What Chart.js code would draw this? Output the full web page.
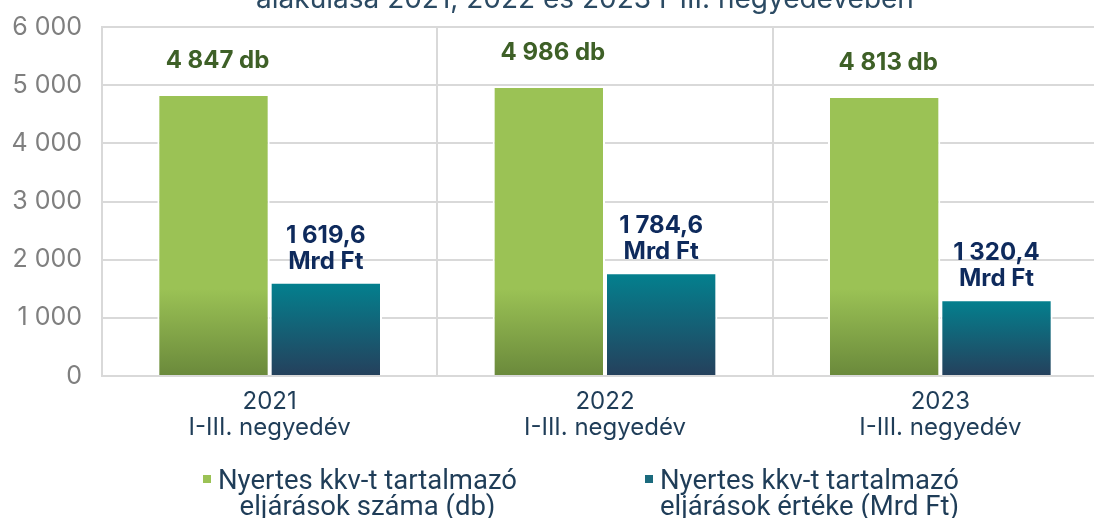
<!DOCTYPE html>
<html lang="hu">
<head>
<meta charset="utf-8">
<script src="https://cdn.jsdelivr.net/npm/chart.js@4/dist/chart.umd.min.js"></script>
<style>
  html, body { margin: 0; padding: 0; background: #fff; overflow: hidden; }
  #wrap { position: absolute; left: 0; top: 0; width: 1110px; height: 518px; }
</style>
</head>
<body>
<div id="wrap"><canvas id="chart"></canvas></div>
<script>
// adatok
const titleText = 'alakulása 2021, 2022 és 2023 I-III. negyedévében';
const categories = [
    ['2021', 'I-III. negyedév'],
    ['2022', 'I-III. negyedév'],
    ['2023', 'I-III. negyedév']
];
const countValues = [4847, 4986, 4813];          // db
const amountValues = [1619.6, 1784.6, 1320.4];   // Mrd Ft
const seriesNames = [
    ['Nyertes kkv-t tartalmazó', 'eljárások száma (db)'],
    ['Nyertes kkv-t tartalmazó', 'eljárások értéke (Mrd Ft)']
];
const yMax = 6000;
const yStep = 1000;

const FONT = 'Inter, "Noto Sans", sans-serif';
const GRID = '#d9d9d9';
const TEXT_DARK = '#1f3d58';

// ezres tagolás szóközzel, tizedesvessző
function fmt(v, decimals) {
    const parts = v.toFixed(decimals).split('.');
    parts[0] = parts[0].replace(/\B(?=(\d{3})+(?!\d))/g, ' ');
    return parts.join(',');
}

function greenFill(ctx) {
    const chart = ctx.chart;
    if (!chart.chartArea) return '#9bc255';
    const y = chart.scales.y;
    const g = chart.ctx.createLinearGradient(0, y.getPixelForValue(1500), 0, y.getPixelForValue(0));
    g.addColorStop(0, '#9bc255');
    g.addColorStop(1, '#6a893b');
    return g;
}

function tealFill(ctx) {
    const chart = ctx.chart;
    if (!chart.chartArea || ctx.raw === undefined) return '#04808f';
    const y = chart.scales.y;
    const g = chart.ctx.createLinearGradient(0, y.getPixelForValue(ctx.raw), 0, y.getPixelForValue(0));
    g.addColorStop(0, '#03818f');
    g.addColorStop(1, '#25405c');
    return g;
}

// felirat, adatcímkék, jelmagyarázat
const decorPlugin = {
    id: 'decor',
    afterDatasetsDraw(chart) {
        const c = chart.ctx;
        c.save();
        c.textAlign = 'center';
        c.textBaseline = 'middle';
        c.font = 'bold 24px ' + FONT;

        c.fillStyle = '#3e6027';
        chart.getDatasetMeta(0).data.forEach((bar, i) => {
            c.fillText(fmt(countValues[i], 0) + ' db', bar.x + 4, bar.y - 33);
        });

        c.fillStyle = '#0e2a5c';
        chart.getDatasetMeta(1).data.forEach((bar, i) => {
            c.fillText(fmt(amountValues[i], 1), bar.x, bar.y - 46);
            c.fillText('Mrd Ft', bar.x, bar.y - 20);
        });
        c.restore();
    },
    afterDraw(chart) {
        const c = chart.ctx;
        c.save();
        // cím (felül levágva)
        c.fillStyle = '#2b4a63';
        c.font = '28px ' + FONT;
        c.textAlign = 'center';
        c.textBaseline = 'alphabetic';
        c.fillText(titleText, 585, 8);

        // jelmagyarázat
        const colors = ['#9bc255', '#1b6a7d'];
        const starts = [218, 660];
        c.font = '27.5px Roboto, ' + FONT;
        seriesNames.forEach((lines, i) => {
            const x0 = starts[i];
            const w1 = c.measureText(lines[0]).width;
            c.fillStyle = colors[i];
            c.fillRect(x0 - 15, 475, 8, 8);
            c.fillStyle = TEXT_DARK;
            c.textAlign = 'left';
            c.fillText(lines[0], x0, 489);
            c.textAlign = 'center';
            c.fillText(lines[1], x0 + w1 / 2, 515);
        });
        c.restore();
    }
};

new Chart(document.getElementById('chart'), {
    type: 'bar',
    data: {
        labels: categories,
        datasets: [
            {
                label: seriesNames[0].join(' '),
                data: countValues,
                backgroundColor: greenFill,
                borderColor: '#ffffff',
                borderWidth: 2,
                borderSkipped: 'start'
            },
            {
                label: seriesNames[1].join(' '),
                data: amountValues,
                backgroundColor: tealFill,
                borderColor: '#ffffff',
                borderWidth: 2,
                borderSkipped: 'start'
            }
        ]
    },
    options: {
        responsive: true,
        maintainAspectRatio: false,
        animation: false,
        categoryPercentage: 0.67,
        barPercentage: 1.0,
        layout: { padding: { top: 27, right: 2, bottom: 0, left: 0 } },
        plugins: {
            legend: { display: false },
            title: { display: false },
            tooltip: { enabled: false }
        },
        scales: {
            x: {
                afterFit: s => { s.height = 142; },
                grid: { color: GRID, lineWidth: 2, drawTicks: false, offset: true },
                border: { color: GRID, width: 2 },
                ticks: {
                    color: TEXT_DARK,
                    font: { family: FONT, size: 24, lineHeight: 1.08 },
                    padding: 13,
                    maxRotation: 0
                }
            },
            y: {
                min: 0,
                max: yMax,
                afterFit: s => { s.width = 102; s.paddingTop = 0; s.paddingBottom = 0; },
                grid: { color: GRID, lineWidth: 2, drawTicks: false },
                border: { color: GRID, width: 2 },
                ticks: {
                    stepSize: yStep,
                    color: '#7f7f7f',
                    font: { family: FONT, size: 25 },
                    padding: 20,
                    callback: v => fmt(v, 0)
                }
            }
        }
    },
    plugins: [decorPlugin]
});
</script>
</body>
</html>
